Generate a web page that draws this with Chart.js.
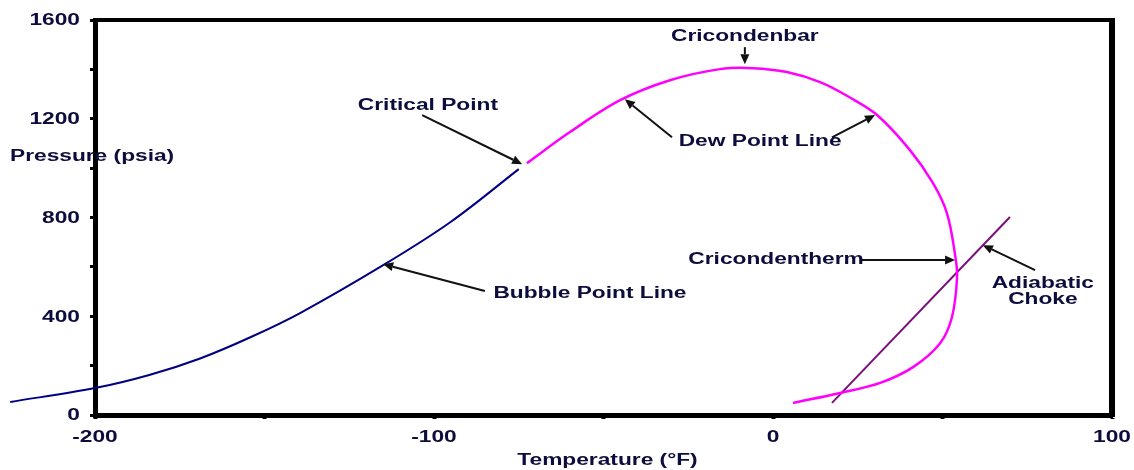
<!DOCTYPE html>
<html>
<head>
<meta charset="utf-8">
<script src="https://cdn.jsdelivr.net/npm/chart.js@4/dist/chart.umd.min.js"></script>
<style>
  html, body { margin: 0; padding: 0; background: #fff; }
  #wrap { width: 1134px; height: 470px; }
</style>
</head>
<body>
<div id="wrap"><canvas id="phase"></canvas></div>
<script>
// phase envelope (temperature in F, pressure in psia)
const bubbleTemp = [-225, -200, -184, -169, -154, -139.5, -115, -95, -75];
const bubblePres = [53, 109, 162, 229, 316, 413, 607, 783, 996];

const dewTemp = [-72.6, -59.9, -45.1, -30.4, -15.6, -5.9, 4.1, 13.9, 22.7, 30.7, 40.4, 47.2, 51.3, 53.7, 54.3, 52.8, 49.3, 41.3, 31.6, 19.8, 5.9];
const dewPres = [1020, 1146, 1275, 1356, 1401, 1405, 1389, 1348, 1286, 1215, 1073, 939, 818, 650, 560, 397, 291, 194, 130, 89, 49];

const chokeTemp = [17.4, 69.9];
const chokePres = [49, 802];

// callouts: text centre and arrow tail -> head, in data units
const labels = [
  { text: "Critical Point", t: -101.8, p: 1255 },
  { text: "Cricondenbar", t: -8.3, p: 1534 },
  { text: "Dew Point Line", t: -3.8, p: 1109 },
  { text: "Cricondentherm", t: 0.9, p: 628 },
  { text: "Bubble Point Line", t: -54, p: 490 },
  { text: "Adiabatic", t: 79.6, p: 534 },
  { text: "Choke", t: 79.6, p: 466 }
];
const arrows = [
  [-103.5, 1215, -74.0, 1016],
  [-8.3, 1490, -8.3, 1421],
  [-29.8, 1125, -43.7, 1279],
  [17.4, 1125, 30.1, 1215],
  [25.7, 628, 53.7, 628],
  [77.3, 587, 61.9, 688],
  [-85, 502, -115, 611]
];

const toPoints = (xs, ys) => xs.map((x, i) => ({ x: x, y: ys[i] }));

const TEXT = "#0d0d3d";
const FONT = "bold 16px 'Liberation Sans', Arial, sans-serif";
const SX = 1.42; // the source picture is stretched sideways

function wideText(ctx, str, x, y, align) {
  ctx.save();
  ctx.font = FONT;
  ctx.fillStyle = TEXT;
  ctx.textAlign = align;
  ctx.textBaseline = "middle";
  ctx.scale(SX, 1);
  ctx.fillText(str, x / SX, y);
  ctx.restore();
}

const decor = {
  id: "decor",
  afterDraw(chart) {
    const ctx = chart.ctx;
    const xs = chart.scales.x, ys = chart.scales.y;
    const a = chart.chartArea;

    // top and right frame
    ctx.save();
    ctx.strokeStyle = "#000";
    ctx.lineWidth = 4;
    ctx.beginPath();
    ctx.moveTo(a.left, a.top);
    ctx.lineTo(a.right, a.top);
    ctx.stroke();
    ctx.lineWidth = 6;
    ctx.beginPath();
    ctx.moveTo(a.right, a.top - 2);
    ctx.lineTo(a.right, a.bottom + 2);
    ctx.stroke();
    ctx.restore();

    // tick labels
    ys.ticks.forEach(tk => {
      if (tk.value % 400 === 0) wideText(ctx, String(tk.value), 80, ys.getPixelForValue(tk.value) + 1, "right");
    });
    xs.ticks.forEach(tk => {
      if (tk.value % 100 === 0) wideText(ctx, String(tk.value), xs.getPixelForValue(tk.value), a.bottom + 23, "center");
    });

    // axis titles
    wideText(ctx, "Pressure (psia)", 10, 157, "left");
    wideText(ctx, "Temperature (\u00B0F)", (a.left + a.right) / 2 + 4, a.bottom + 46, "center");

    // callout text
    labels.forEach(l => wideText(ctx, l.text, xs.getPixelForValue(l.t), ys.getPixelForValue(l.p), "center"));

    // arrows
    ctx.save();
    ctx.strokeStyle = "#111";
    ctx.fillStyle = "#111";
    ctx.lineWidth = 2;
    arrows.forEach(ar => {
      const x0 = xs.getPixelForValue(ar[0]), y0 = ys.getPixelForValue(ar[1]);
      const x1 = xs.getPixelForValue(ar[2]), y1 = ys.getPixelForValue(ar[3]);
      const ang = Math.atan2(y1 - y0, x1 - x0);
      const len = 10, half = 4.5;
      const bx = x1 - len * Math.cos(ang), by = y1 - len * Math.sin(ang);
      ctx.beginPath();
      ctx.moveTo(x0, y0);
      ctx.lineTo(bx, by);
      ctx.stroke();
      ctx.beginPath();
      ctx.moveTo(x1, y1);
      ctx.lineTo(bx + half * Math.sin(ang), by - half * Math.cos(ang));
      ctx.lineTo(bx - half * Math.sin(ang), by + half * Math.cos(ang));
      ctx.closePath();
      ctx.fill();
    });
    ctx.restore();
  }
};

new Chart(document.getElementById("phase"), {
  type: "scatter",
  data: {
    datasets: [
      {
        label: "Bubble Point Line",
        data: toPoints(bubbleTemp, bubblePres),
        showLine: true, borderColor: "#000080", borderWidth: 2,
        pointRadius: 0, tension: 0.35, clip: false
      },
      {
        label: "Dew Point Line",
        data: toPoints(dewTemp, dewPres),
        showLine: true, borderColor: "#ff00ff", borderWidth: 2.5,
        pointRadius: 0, tension: 0.35, clip: false
      },
      {
        label: "Adiabatic Choke",
        data: toPoints(chokeTemp, chokePres),
        showLine: true, borderColor: "#7a0f7a", borderWidth: 2,
        pointRadius: 0, tension: 0, clip: false
      }
    ]
  },
  options: {
    responsive: true,
    maintainAspectRatio: false,
    animation: false,
    layout: { padding: { top: 20, right: 22, left: 0, bottom: 0 } },
    plugins: { legend: { display: false }, tooltip: { enabled: false } },
    scales: {
      x: {
        type: "linear", min: -200, max: 100,
        ticks: { stepSize: 50, display: false },
        grid: { drawOnChartArea: false, drawTicks: true, tickLength: 4, tickWidth: 4, color: "#000" },
        border: { color: "#000", width: 5 },
        afterFit(s) { s.height = 55; }
      },
      y: {
        type: "linear", min: 0, max: 1600,
        ticks: { stepSize: 200, display: false },
        grid: { drawOnChartArea: false, drawTicks: true, tickLength: 5, tickWidth: 3, color: "#000" },
        border: { color: "#000", width: 5 },
        afterFit(s) { s.width = 95; }
      }
    }
  },
  plugins: [decor]
});
</script>
</body>
</html>
